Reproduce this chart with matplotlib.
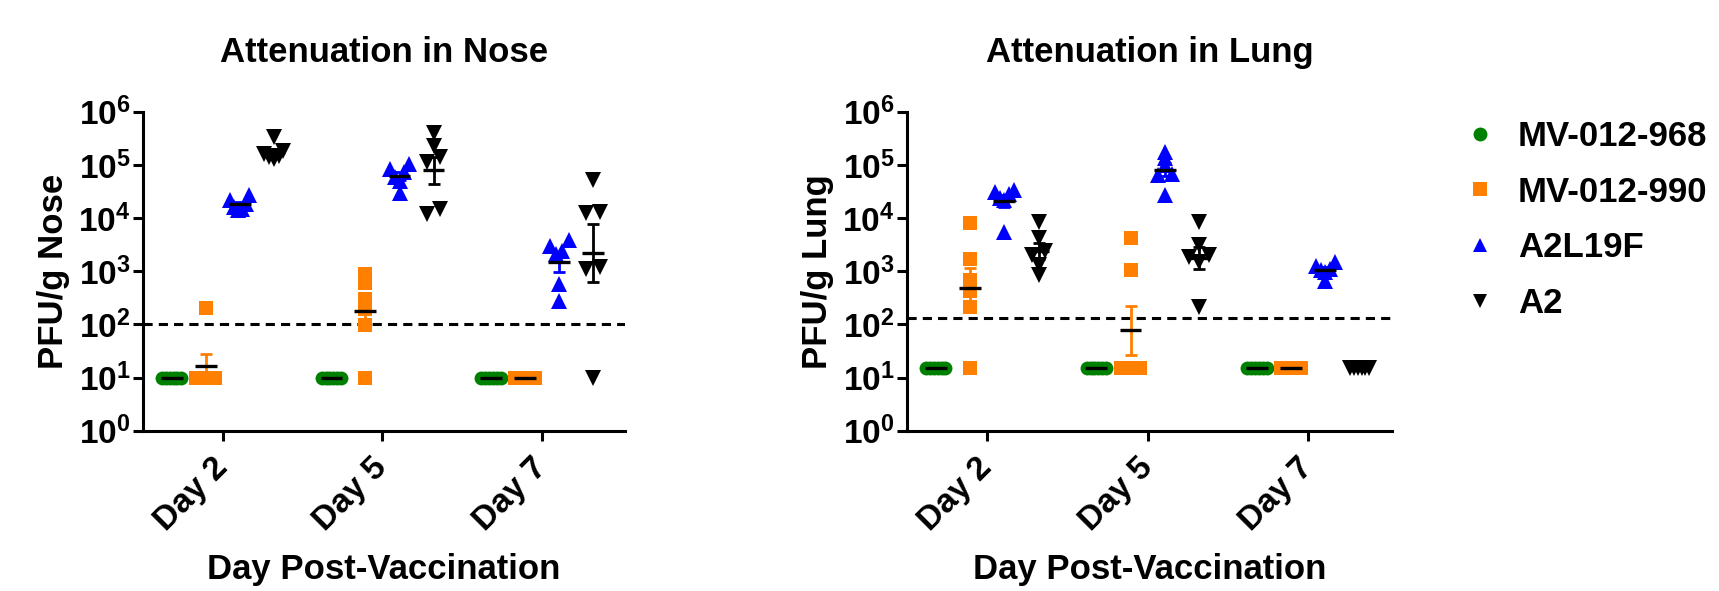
import numpy as np
import matplotlib
matplotlib.use("Agg")
import matplotlib.pyplot as plt
from matplotlib.lines import Line2D
from matplotlib.ticker import FixedLocator, FuncFormatter, NullLocator

plt.rcParams['font.family'] = ['Liberation Sans', 'DejaVu Sans']
plt.rcParams['font.weight'] = 'bold'
plt.rcParams['mathtext.fontset'] = 'custom'
plt.rcParams['mathtext.rm'] = 'Liberation Sans:bold'
plt.rcParams['mathtext.bf'] = 'Liberation Sans:bold'
plt.rcParams['mathtext.it'] = 'Liberation Sans:bold'

days = ['Day 2', 'Day 5', 'Day 7']
groups = ['MV-012-968', 'MV-012-990', 'A2L19F', 'A2']
colors = ['#008000', '#ff8000', '#0000ff', '#000000']
markers = ['o', 's', '^', 'v']
msizes = [10, 10, 11, 11]

# PFU/g nose, one list per day (Day 2, Day 5, Day 7)
nose_968 = [[10, 10, 10, 10, 10, 10], [10, 10, 10, 10, 10, 10], [10, 10, 10, 10, 10, 10]]
nose_990 = [[200, 10, 10, 10, 10, 10], [900, 590, 300, 195, 98, 10], [10, 10, 10, 10, 10, 10]]
nose_a2l19f = [[27000, 22000, 18000, 16000, 15000, 14000],
               [105000, 85000, 72000, 60000, 50000, 29000],
               [3800, 3000, 2450, 2150, 580, 280]]
nose_a2 = [[330000, 180000, 160000, 150000, 140000, 130000],
           [390000, 230000, 140000, 112000, 15000, 12000],
           [53000, 13200, 12600, 1200, 1120, 10]]

# PFU/g lung
lung_968 = [[15, 15, 15, 15, 15, 15], [15, 15, 15, 15, 15, 15], [15, 15, 15, 15, 15, 15]]
lung_990 = [[7900, 1700, 675, 425, 212, 15], [4300, 1050, 15, 15, 15, 15], [15, 15, 15, 15, 15, 15]]
lung_a2l19f = [[33000, 31000, 28000, 24000, 22000, 5500],
               [178000, 135000, 100000, 68000, 65000, 27000],
               [1500, 1250, 1100, 1050, 950, 650]]
lung_a2 = [[8500, 4200, 2400, 2000, 1300, 850],
           [8500, 3100, 2000, 1850, 1500, 210],
           [15, 15, 15, 15, 15, 15]]

nose_limit = 100
lung_limit = 130

group_offsets = [-0.32, -0.107, 0.107, 0.32]


def spread(vals, step=0.085, half=0.06, thr=0.11):
    # simple column scatter: points close in value get pushed sideways
    lv = np.log10(vals)
    order = np.argsort(lv)
    offs = np.zeros(len(vals))
    clusters = []
    cur = [order[0]]
    for i in order[1:]:
        if lv[i] - lv[cur[-1]] < thr:
            cur.append(i)
        else:
            clusters.append(cur)
            cur = [i]
    clusters.append(cur)
    for c in clusters:
        k = len(c)
        pos = (np.arange(k) - (k - 1) / 2) * step
        if k > 1 and pos.max() > half:
            pos = pos * half / pos.max()
        slots = sorted(pos, key=lambda p: (abs(p), p))
        for idx, p in zip(c, slots):
            offs[idx] = p
    return offs


def panel(ax, data, title, ylab, limit):
    xs = np.arange(len(days))
    ax.axhline(limit, color='k', ls=(0, (3, 2)), lw=2.2, zorder=1)
    for g in range(4):
        for d in range(len(days)):
            vals = np.array(data[g][d], float)
            x0 = xs[d] + group_offsets[g]
            ax.plot(x0 + spread(vals), vals, ls='none', marker=markers[g],
                    color=colors[g], ms=msizes[g], mew=0, zorder=3)
            lv = np.log10(vals)
            m = lv.mean()
            se = lv.std(ddof=1) / np.sqrt(len(lv))
            if se > 0.01:
                ax.errorbar(x0, 10 ** m,
                            yerr=[[10 ** m - 10 ** (m - se)], [10 ** (m + se) - 10 ** m]],
                            fmt='none', ecolor=colors[g], elinewidth=2, capsize=4,
                            capthick=2, zorder=4)
            ax.hlines(10 ** m, x0 - 0.068, x0 + 0.068, color='k', lw=2.4, zorder=5)

    ax.set_yscale('log')
    ax.set_ylim(1, 1e6)
    ax.set_xlim(-0.5, 2.52)
    ax.yaxis.set_major_locator(FixedLocator([10.0 ** i for i in range(7)]))
    ax.yaxis.set_minor_locator(NullLocator())
    ax.yaxis.set_major_formatter(FuncFormatter(lambda v, p: r'$\mathbf{10^{%d}}$' % round(np.log10(v))))
    ax.set_xticks(xs)
    ax.set_xticklabels(days, rotation=45, ha='right', va='center', rotation_mode='anchor')
    for s in ['top', 'right']:
        ax.spines[s].set_visible(False)
    for s in ['left', 'bottom']:
        ax.spines[s].set_linewidth(2.2)
    ax.tick_params(axis='both', direction='out', length=7, width=2.2)
    ax.tick_params(axis='y', pad=2, labelsize=24)
    ax.tick_params(axis='x', pad=16, labelsize=24)
    ax.set_title(title, fontsize=25, fontweight='bold', pad=36)
    ax.set_ylabel(ylab, fontsize=25, fontweight='bold', labelpad=6)
    ax.set_xlabel('Day Post-Vaccination', fontsize=25, fontweight='bold', labelpad=12)


fig = plt.figure(figsize=(17.19, 5.91), dpi=100)
ax1 = fig.add_axes([0.0832, 0.2712, 0.2804, 0.5398])
ax2 = fig.add_axes([0.5276, 0.2712, 0.2820, 0.5398])

panel(ax1, [nose_968, nose_990, nose_a2l19f, nose_a2], 'Attenuation in Nose', 'PFU/g Nose', nose_limit)
panel(ax2, [lung_968, lung_990, lung_a2l19f, lung_a2], 'Attenuation in Lung', 'PFU/g Lung', lung_limit)

handles = [Line2D([], [], ls='none', marker=markers[g], color=colors[g], ms=10, mew=0)
           for g in range(4)]
fig.legend(handles, groups, loc='upper left', bbox_to_anchor=(0.8508, 0.797),
           frameon=False, fontsize=25, handlelength=1, handletextpad=0.6,
           labelspacing=0.65, borderpad=0, borderaxespad=0)

fig.savefig('out.png', dpi=100)
